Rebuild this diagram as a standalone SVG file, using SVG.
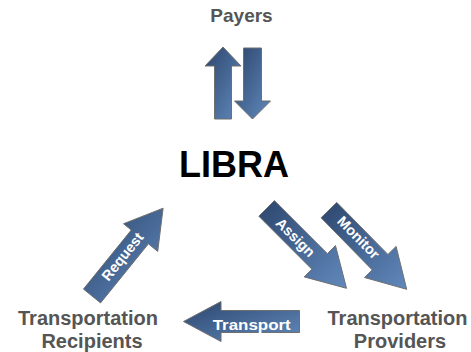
<svg xmlns="http://www.w3.org/2000/svg" width="471" height="352" viewBox="0 0 471 352">
<style>
.lbl{font-family:"Liberation Sans",Arial,sans-serif;font-weight:bold;fill:#555555;text-anchor:middle}
.arr{fill:url(#g);stroke:#6f6f6f;stroke-width:1}
.at{font-family:"Liberation Sans",Arial,sans-serif;font-weight:bold;fill:#ffffff;text-anchor:middle;font-size:14.5px}
</style>
<defs>
<linearGradient id="g" x1="0" y1="0" x2="1" y2="1">
<stop offset="0" stop-color="#2c466d"/>
<stop offset="1" stop-color="#6189bc"/>
</linearGradient>
</defs>
<rect width="471" height="352" fill="#ffffff"/>
<g id="payers"><text class="lbl" x="241.5" y="22" font-size="19">Payers</text></g>
<g id="libra"><text x="234" y="177" font-family="Liberation Sans,Arial,sans-serif" font-weight="bold" font-size="36" fill="#000000" text-anchor="middle">LIBRA</text></g>
<g id="recipients">
<text class="lbl" x="88" y="325" font-size="20">Transportation</text>
<text class="lbl" x="92" y="348" font-size="20">Recipients</text>
</g>
<g id="providers">
<text class="lbl" x="397.5" y="325" font-size="20">Transportation</text>
<text class="lbl" x="400" y="348" font-size="20">Providers</text>
</g>
<g id="connectors">
<g id="pay-up"><polygon class="arr" points="223,47 241,66 231.5,66 231.5,119 214.5,119 214.5,66 205,66"/></g>
<g id="pay-down"><polygon class="arr" points="243.5,48 261.5,48 261.5,101 270.5,101 252.5,119 234.5,101 243.5,101"/></g>
<g id="request">
<polygon class="arr" points="83.45,289.08 131.28,230.02 123.51,223.72 163.11,208.19 157.7,251.4 148.38,243.86 100.55,302.92"/>
<text class="at" transform="translate(122.5,256.5) rotate(-51)" y="5">Request</text>
</g>
<g id="assign">
<polygon class="arr" points="274.38,200.62 327.41,253.65 335.5,245.6 346.5,288.3 304.2,276.9 311.85,269.21 258.82,216.18"/>
<text class="at" transform="translate(295.5,237.5) rotate(45)" y="5">Assign</text>
</g>
<g id="monitor">
<polygon class="arr" points="336.75,202.39 387.92,254.46 396.1,246.4 406.7,289.3 364.5,277.5 372.22,269.88 321.05,217.81"/>
<text class="at" transform="translate(358.5,237.5) rotate(45.5)" y="5">Monitor</text>
</g>
<g id="transport">
<polygon class="arr" points="183.5,321.5 221,301.5 221,310.5 299.5,310.5 299.5,332.5 221,332.5 221,341.5"/>
<text class="at" x="251.7" y="330" font-size="15" textLength="78" lengthAdjust="spacingAndGlyphs">Transport</text>
</g>
</g>
</svg>
